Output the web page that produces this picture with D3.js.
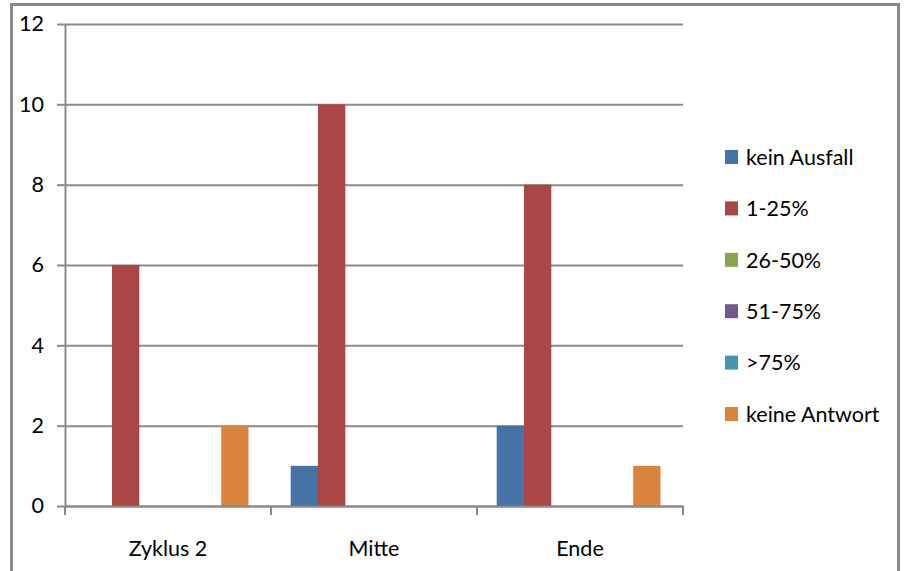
<!DOCTYPE html>
<html>
<head>
<meta charset="utf-8">
<script src="https://cdn.jsdelivr.net/npm/d3@7"></script>
<style>
  body { margin: 0; background: #fff; }
  svg { display: block; font-family: Lato, "Open Sans", sans-serif; }
</style>
</head>
<body>
<div id="container"></div>
<script>
const categories = ["Zyklus 2", "Mitte", "Ende"];
const seriesNames = ["kein Ausfall", "1-25%", "26-50%", "51-75%", ">75%", "keine Antwort"];
const seriesColors = ["#4572A7", "#AA4643", "#89A54E", "#71588F", "#4198AF", "#DB843D"];
const keinAusfall = [0, 1, 2];
const p1to25 = [6, 10, 8];
const p26to50 = [0, 0, 0];
const p51to75 = [0, 0, 0];
const pOver75 = [0, 0, 0];
const keineAntwort = [2, 0, 1];
const yTicks = [0, 2, 4, 6, 8, 10, 12];

const seriesValues = [keinAusfall, p1to25, p26to50, p51to75, pOver75, keineAntwort];

const W = 905, H = 571;
const plot = { left: 65, right: 683, top: 24, bottom: 506 };

const svg = d3.select('#container')
    .append('svg')
    .attr('width', W)
    .attr('height', H);

// outer frame
svg.append('rect')
    .attr('x', 11.5)
    .attr('y', 4.5)
    .attr('width', 887)
    .attr('height', 600)
    .attr('fill', 'none')
    .attr('stroke', '#8a8a8a')
    .attr('stroke-width', 3);

const x0 = d3.scaleBand()
    .domain(categories)
    .range([plot.left, plot.right]);

// bars sit slightly left of centre inside each category
const barW = 27.3;
const x1 = d3.scaleBand()
    .domain(seriesNames)
    .range([19.7, 19.7 + barW * seriesNames.length]);

const y = d3.scaleLinear()
    .domain([0, 12])
    .range([plot.bottom, plot.top]);

// horizontal grid
svg.append('g')
    .attr('class', 'grid')
    .attr('transform', `translate(${plot.left},0)`)
    .call(d3.axisLeft(y)
        .tickValues(yTicks)
        .tickSize(-(plot.right - plot.left))
        .tickFormat(''))
    .call(g => g.select('.domain').remove())
    .call(g => g.selectAll('line').attr('stroke', '#8a8a8a').attr('stroke-width', 2));

// y axis
const yAxis = svg.append('g')
    .attr('transform', `translate(${plot.left},0)`)
    .call(d3.axisLeft(y).tickValues(yTicks).tickSize(8).tickPadding(13).tickSizeOuter(0));
yAxis.select('.domain').attr('stroke', '#8a8a8a').attr('stroke-width', 2);
yAxis.selectAll('line').attr('stroke', '#8a8a8a').attr('stroke-width', 2);
yAxis.selectAll('text')
    .attr('font-size', 21.5)
    .attr('fill', '#000')
    .style('font-family', 'Lato, sans-serif');

// bars
const groups = svg.selectAll('.cat')
    .data(categories)
    .enter()
    .append('g')
    .attr('transform', c => `translate(${x0(c)},0)`);

groups.selectAll('rect')
    .data((c, ci) => seriesNames.map((s, si) => ({ s, si, v: seriesValues[si][ci] })))
    .enter()
    .append('rect')
    .attr('x', d => x1(d.s))
    .attr('y', d => y(d.v))
    .attr('width', x1.bandwidth())
    .attr('height', d => y(0) - y(d.v))
    .attr('fill', d => seriesColors[d.si]);

// x axis
const xAxis = svg.append('g')
    .attr('transform', `translate(0,${plot.bottom})`)
    .call(d3.axisBottom(x0).tickSize(0).tickPadding(35));
xAxis.select('.domain').attr('stroke', '#8a8a8a').attr('stroke-width', 2);
xAxis.selectAll('text')
    .attr('font-size', 21.5)
    .attr('fill', '#000')
    .style('font-family', 'Lato, sans-serif');

const boundaries = categories.map(c => x0(c)).concat([plot.right]);
svg.append('g')
    .selectAll('line')
    .data(boundaries)
    .enter()
    .append('line')
    .attr('x1', d => d)
    .attr('x2', d => d)
    .attr('y1', plot.bottom)
    .attr('y2', plot.bottom + 9)
    .attr('stroke', '#8a8a8a')
    .attr('stroke-width', 2);

// legend
const legend = svg.append('g')
    .attr('transform', 'translate(725,157)');

const items = legend.selectAll('g')
    .data(seriesNames)
    .enter()
    .append('g')
    .attr('transform', (d, i) => `translate(0,${i * 51.4})`);

items.append('rect')
    .attr('x', 0)
    .attr('y', -7)
    .attr('width', 13)
    .attr('height', 14)
    .attr('fill', (d, i) => seriesColors[i]);

items.append('text')
    .attr('x', 21)
    .attr('y', 0)
    .attr('dy', '0.36em')
    .attr('font-size', 21.5)
    .text(d => d);
</script>
</body>
</html>
